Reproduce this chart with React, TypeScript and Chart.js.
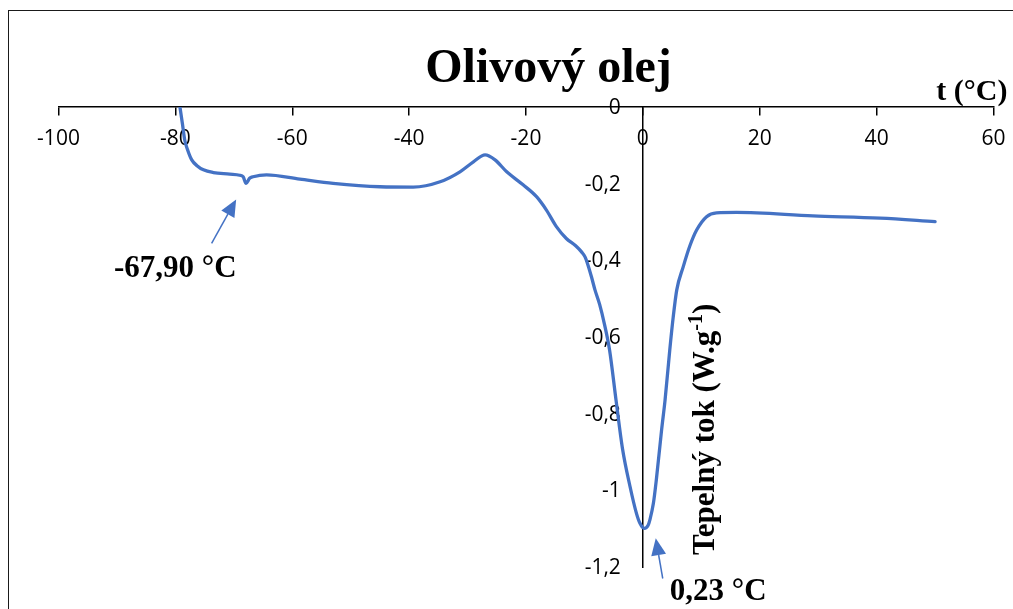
import { useEffect, useRef } from 'react';
import { Chart, registerables } from 'chart.js';

Chart.register(...registerables);

// DSC heating curve of olive oil: temperature (°C) vs heat flow (W/g)
const temperature = [
  -79.2, -78.8, -78.4, -77.9, -77.2, -76.3, -75.2, -73.5, -70.7, -69.0, -68.4, -67.9, -67.3, -66.7, -64.4,
  -58.7, -53.0, -45.0, -39.3, -34.7, -31.3, -29.0, -27.0, -25.3, -23.3, -20.5, -18.2, -16.5,
  -14.8, -13.1, -11.5, -10.5, -9.9, -9.4, -8.8, -8.2, -7.4, -6.6, -5.7, -4.6, -3.5, -2.2, -1.1, -0.5, 0.23,
  0.9, 1.2, 1.8, 2.3, 3.2, 3.8, 4.6, 5.2, 5.8, 6.9, 8.0, 9.2, 10.9, 12.6, 16.0, 29.1, 40.6, 50.0,
];
const heatFlow = [
  -0.002, -0.043, -0.086, -0.112, -0.138, -0.153, -0.164, -0.171, -0.175, -0.178, -0.182, -0.199, -0.186, -0.182, -0.177,
  -0.188, -0.199, -0.208, -0.209, -0.195, -0.169, -0.143, -0.125, -0.138, -0.169, -0.203, -0.234, -0.269,
  -0.312, -0.343, -0.362, -0.378, -0.391, -0.412, -0.443, -0.477, -0.515, -0.565, -0.634, -0.764, -0.89, -0.99, -1.06, -1.086, -1.099,
  -1.091, -1.077, -1.034, -0.973, -0.843, -0.764, -0.634, -0.547, -0.477, -0.417, -0.364, -0.321, -0.286, -0.276, -0.275, -0.284, -0.29, -0.299,
];

const xTicks = [-100, -80, -60, -40, -20, 0, 20, 40, 60];
const yTicks = [0, -0.2, -0.4, -0.6, -0.8, -1, -1.2];

const chartTitle = 'Olivový olej';
const xTitle = 't (°C)';
const yTitleMain = 'Tepelný tok (W.g';
const yTitleSup = '-1';
const yTitleEnd = ')';

// marked transitions: label, arrow tip, arrow tail and label anchor in data units
const peakLabels = ['-67,90 °C', '0,23 °C'];
const arrowTips = [[-69.6, -0.241], [2.2, -1.125]];
const arrowTails = [[-73.8, -0.356], [3.4, -1.23]];
const labelAnchors = [[-90.5, -0.443], [4.6, -1.286]];

const LINE_BLUE = '#4472C4';
const TICK_FONT = '"Open Sans", sans-serif';
const SERIF = '"Liberation Serif", "Times New Roman", serif';

const fmt = (v: number) => String(v).replace('.', ',');

function drawArrow(ctx: CanvasRenderingContext2D, x1: number, y1: number, x2: number, y2: number) {
  const ang = Math.atan2(y2 - y1, x2 - x1);
  const headLen = 17;
  const headW = 7.5;
  const bx = x2 - headLen * Math.cos(ang);
  const by = y2 - headLen * Math.sin(ang);
  ctx.save();
  ctx.strokeStyle = LINE_BLUE;
  ctx.fillStyle = LINE_BLUE;
  ctx.lineWidth = 1.5;
  ctx.beginPath();
  ctx.moveTo(x1, y1);
  ctx.lineTo(bx, by);
  ctx.stroke();
  ctx.beginPath();
  ctx.moveTo(x2, y2);
  ctx.lineTo(bx + headW * Math.sin(ang), by - headW * Math.cos(ang));
  ctx.lineTo(bx - headW * Math.sin(ang), by + headW * Math.cos(ang));
  ctx.closePath();
  ctx.fill();
  ctx.restore();
}

const overlayPlugin = {
  id: 'dscOverlay',
  beforeDraw(chart: any) {
    const { ctx, scales } = chart;
    const xs = scales.x;
    const ys = scales.y;
    // y tick labels sit to the left of the axis that crosses at t = 0
    ctx.save();
    ctx.font = `21px ${TICK_FONT}`;
    ctx.fillStyle = '#000';
    ctx.textAlign = 'right';
    ctx.textBaseline = 'middle';
    const lx = xs.getPixelForValue(0) - 22;
    yTicks.forEach((v) => ctx.fillText(fmt(v), lx, ys.getPixelForValue(v) + 1));
    ctx.restore();
  },
  afterDraw(chart: any) {
    const { ctx, scales, chartArea } = chart;
    const xs = scales.x;
    const ys = scales.y;
    ctx.save();
    ctx.fillStyle = '#000';

    // chart title
    ctx.font = `bold 48px ${SERIF}`;
    ctx.textAlign = 'center';
    ctx.textBaseline = 'alphabetic';
    ctx.fillText(chartTitle, 548.5, chartArea.top - 25);

    // x axis title
    ctx.font = `bold 30px ${SERIF}`;
    ctx.textAlign = 'right';
    ctx.fillText(xTitle, chartArea.right + 14, chartArea.top - 7);

    // y axis title, rotated, with superscript exponent
    ctx.save();
    ctx.translate(xs.getPixelForValue(0) + 71, chartArea.bottom - 12);
    ctx.rotate(-Math.PI / 2);
    ctx.textAlign = 'left';
    ctx.font = `bold 31px ${SERIF}`;
    ctx.fillText(yTitleMain, 0, 0);
    const w1 = ctx.measureText(yTitleMain).width;
    ctx.font = `bold 20px ${SERIF}`;
    ctx.fillText(yTitleSup, w1, -12);
    const w2 = ctx.measureText(yTitleSup).width;
    ctx.font = `bold 31px ${SERIF}`;
    ctx.fillText(yTitleEnd, w1 + w2, 0);
    ctx.restore();

    // transition markers
    peakLabels.forEach((label, i) => {
      drawArrow(
        ctx,
        xs.getPixelForValue(arrowTails[i][0]),
        ys.getPixelForValue(arrowTails[i][1]),
        xs.getPixelForValue(arrowTips[i][0]),
        ys.getPixelForValue(arrowTips[i][1]),
      );
      ctx.font = `bold 31px ${SERIF}`;
      ctx.textAlign = 'left';
      ctx.textBaseline = 'alphabetic';
      ctx.fillStyle = '#000';
      ctx.fillText(label, xs.getPixelForValue(labelAnchors[i][0]), ys.getPixelForValue(labelAnchors[i][1]));
    });
    ctx.restore();
  },
};

export default function App() {
  const canvasRef = useRef<HTMLCanvasElement | null>(null);

  useEffect(() => {
    const canvas = canvasRef.current;
    if (!canvas) return;
    const chart = new Chart(canvas, {
      type: 'line',
      data: {
        datasets: [
          {
            data: temperature.map((t, i) => ({ x: t, y: heatFlow[i] })),
            borderColor: LINE_BLUE,
            borderWidth: 3.3,
            pointRadius: 0,
            fill: false,
            cubicInterpolationMode: 'monotone',
            borderCapStyle: 'round',
            borderJoinStyle: 'round',
          },
        ],
      },
      options: {
        animation: false,
        responsive: false,
        layout: { padding: { left: 58.5, right: 19.5, top: 107, bottom: 42 } },
        plugins: { legend: { display: false }, tooltip: { enabled: false }, title: { display: false } },
        scales: {
          x: {
            type: 'linear',
            min: -100,
            max: 60,
            position: { y: 0 },
            afterBuildTicks: (s: any) => {
              s.ticks = xTicks.map((v) => ({ value: v }));
            },
            afterFit: (s: any) => {
              // end labels may overhang; the outer padding already leaves room
              s.paddingLeft = 0;
              s.paddingRight = 0;
            },
            ticks: {
              font: { family: TICK_FONT, size: 21 },
              color: '#000',
              padding: 11,
              maxRotation: 0,
              autoSkip: false,
              callback: (v: any) => fmt(Number(v)),
            },
            grid: {
              drawOnChartArea: false,
              drawTicks: true,
              tickLength: 8,
              color: '#000',
              lineWidth: 1.5,
            },
            border: { color: '#000', width: 1.5 },
          },
          y: {
            type: 'linear',
            min: -1.2,
            max: 0,
            position: { x: 0 },
            afterBuildTicks: (s: any) => {
              s.ticks = yTicks.map((v) => ({ value: v }));
            },
            afterFit: (s: any) => {
              s.paddingTop = 0;
              s.paddingBottom = 0;
            },
            ticks: { display: false },
            grid: { drawOnChartArea: false, drawTicks: false, color: '#000' },
            border: { color: '#000', width: 1.5 },
          },
        },
      },
      plugins: [overlayPlugin],
    } as any);
    return () => chart.destroy();
  }, []);

  return (
    <div
      style={{
        position: 'fixed',
        left: 0,
        top: 0,
        width: 1013,
        height: 609,
        overflow: 'hidden',
        background: '#fff',
      }}
    >
      <div
        style={{
          position: 'absolute',
          left: 8,
          top: 10,
          width: 1200,
          height: 800,
          borderLeft: '1.5px solid #1a1a1a',
          borderTop: '1.5px solid #1a1a1a',
        }}
      />
      <canvas
        ref={canvasRef}
        width={1013}
        height={609}
        style={{ position: 'absolute', left: 0, top: 0, width: 1013, height: 609 }}
      />
    </div>
  );
}
